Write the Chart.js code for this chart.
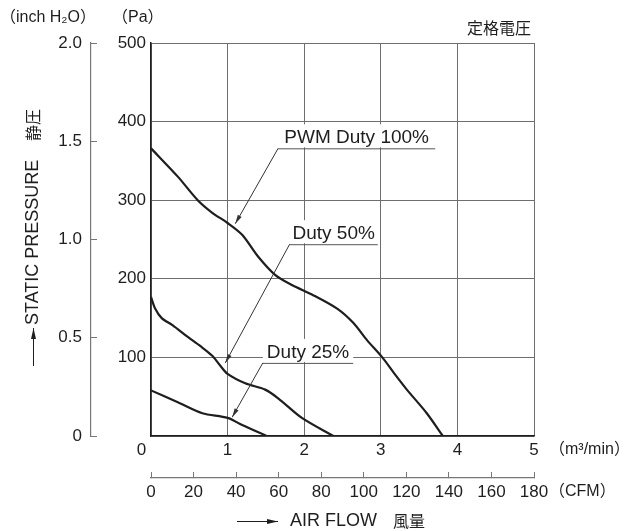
<!DOCTYPE html>
<html>
<head>
<meta charset="utf-8">
<script src="https://cdn.jsdelivr.net/npm/chart.js@4.4.1/dist/chart.umd.min.js"></script>
<style>
  html, body { margin: 0; padding: 0; background: #fff; }
</style>
</head>
<body>
<canvas id="fanChart" width="630" height="531"></canvas>
<script>
// air flow (m3/min) and static pressure (Pa)
var flow100 = [0, 0.35, 0.61, 0.8, 1.0, 1.19, 1.4, 1.62, 1.84, 2.1, 2.43, 2.64, 2.82, 3.02, 3.18, 3.34, 3.6, 3.81];
var pa100   = [366, 330, 300, 284, 271, 256, 228, 205, 192, 180, 162, 144, 122, 100, 79, 59, 29, 0];
var flow50  = [0, 0.05, 0.14, 0.28, 0.48, 0.65, 0.8, 0.9, 1.0, 1.23, 1.49, 1.66, 1.97, 2.38];
var pa50    = [177, 163, 150, 141, 126, 114, 102, 90, 79, 67, 59, 48, 23, 0];
var flow25  = [0, 0.35, 0.67, 1.0, 1.19, 1.51];
var pa25    = [58, 43, 29, 23, 14, 0];

var seriesNames = ['PWM Duty 100%', 'Duty 50%', 'Duty 25%'];

// tick labels
var flowTicks = [0, 1, 2, 3, 4, 5];
var paTicks   = [0, 100, 200, 300, 400, 500];
var inchTicks = [0, 0.5, 1.0, 1.5, 2.0];
var cfmTicks  = [0, 20, 40, 60, 80, 100, 120, 140, 160, 180];

var NARROW = "'Liberation Sans Narrow', 'Arial Narrow', 'Liberation Sans', sans-serif";
var SANS = "'Liberation Sans', Arial, sans-serif";
var CJK = "'Noto Sans CJK JP', 'Noto Sans CJK SC', sans-serif";
var GRID = '#6e6e6e';
var INK = '#1e1e1e';

function toPoints(xs, ys) {
    var pts = [];
    for (var i = 0; i < xs.length; i++) pts.push({x: xs[i], y: ys[i]});
    return pts;
}
function fixTicks(arr) {
    return function (scale) { scale.ticks = arr.map(function (v) { return {value: v}; }); };
}

// annotations: label over an underline, leader to the curve (data units)
var notes = [
    {text: seriesNames[0], x0: 1.66, x1: 3.71, y: 366, tx: 1.10, ty: 270},
    {text: seriesNames[1], x0: 1.81, x1: 2.96, y: 244, tx: 0.97, ty: 93},
    {text: seriesNames[2], x0: 1.46, x1: 2.64, y: 93,  tx: 1.06, ty: 24}
];

function arrow(ctx, x1, y1, x2, y2, len, half) {
    var a = Math.atan2(y2 - y1, x2 - x1);
    ctx.beginPath();
    ctx.moveTo(x1, y1);
    ctx.lineTo(x2, y2);
    ctx.stroke();
    ctx.beginPath();
    ctx.moveTo(x2, y2);
    ctx.lineTo(x2 - len * Math.cos(a) + half * Math.sin(a), y2 - len * Math.sin(a) - half * Math.cos(a));
    ctx.lineTo(x2 - len * Math.cos(a) - half * Math.sin(a), y2 - len * Math.sin(a) + half * Math.cos(a));
    ctx.closePath();
    ctx.fill();
}

var textPlugin = {
    id: 'texts',
    afterDatasetsDraw: function (chart) {
        var ctx = chart.ctx;
        var xs = chart.scales.x, ys = chart.scales.y;
        ctx.save();
        ctx.lineWidth = 1;
        notes.forEach(function (n) {
            var l = xs.getPixelForValue(n.x0), r = xs.getPixelForValue(n.x1);
            var yy = ys.getPixelForValue(n.y);
            ctx.fillStyle = '#fff';
            ctx.fillRect(l, yy - 24, r - l, 23);
            ctx.fillStyle = INK;
            ctx.font = '19px ' + SANS;
            ctx.textAlign = 'center';
            ctx.textBaseline = 'alphabetic';
            ctx.fillText(n.text, (l + r) / 2, yy - 5);
            ctx.strokeStyle = '#555';
            ctx.beginPath();
            ctx.moveTo(l, yy + 0.5);
            ctx.lineTo(r, yy + 0.5);
            ctx.stroke();
            ctx.strokeStyle = '#333';
            ctx.fillStyle = '#333';
            arrow(ctx, l, yy, xs.getPixelForValue(n.tx), ys.getPixelForValue(n.ty), 9, 2.2);
        });
        ctx.restore();
    },
    afterDraw: function (chart) {
        var ctx = chart.ctx;
        ctx.save();
        ctx.fillStyle = INK;
        ctx.textBaseline = 'middle';
        ctx.textAlign = 'left';
        ctx.font = '16px ' + NARROW + ', ' + CJK;
        ctx.fillText('（inch H₂O）', 0, 18);
        ctx.fillText('（Pa）', 112, 18);
        ctx.fillText('（m³/min）', 549, 450);
        ctx.fillText('（CFM）', 549, 492);
        ctx.font = '16px ' + CJK;
        ctx.fillText('定格電圧', 467, 28);

        // x title
        ctx.strokeStyle = INK;
        ctx.fillStyle = INK;
        ctx.lineWidth = 1;
        arrow(ctx, 237, 521.5, 278, 521.5, 11, 2.5);
        ctx.font = '18px ' + SANS;
        ctx.fillText('AIR FLOW', 290, 521);
        ctx.font = '16px ' + CJK;
        ctx.fillText('風量', 393, 521);

        // y title
        ctx.translate(33, 0);
        ctx.rotate(-Math.PI / 2);
        arrow(ctx, -366, 0.5, -328, 0.5, 11, 2.5);
        ctx.font = '18px ' + SANS;
        ctx.fillText('STATIC PRESSURE', -325, 0);
        ctx.font = '16px ' + CJK;
        ctx.fillText('静圧', -141, 0);
        ctx.restore();
    }
};

function lineSet(label, xs, ys) {
    return {
        label: label,
        data: toPoints(xs, ys),
        borderColor: INK,
        borderWidth: 2.2,
        pointRadius: 0,
        fill: false,
        tension: 0.3,
        xAxisID: 'x',
        yAxisID: 'y'
    };
}

var ctx = document.getElementById('fanChart');
new Chart(ctx, {
    type: 'line',
    data: {
        datasets: [
            lineSet(seriesNames[0], flow100, pa100),
            lineSet(seriesNames[1], flow50, pa50),
            lineSet(seriesNames[2], flow25, pa25)
        ]
    },
    options: {
        responsive: false,
        devicePixelRatio: 1,
        animation: false,
        layout: { padding: { top: 43, right: 96, bottom: 0, left: 0 } },
        plugins: { legend: { display: false }, tooltip: { enabled: false } },
        scales: {
            x: {
                type: 'linear', position: 'bottom', weight: 0,
                min: 0, max: 5,
                afterBuildTicks: fixTicks(flowTicks),
                afterFit: function (s) { s.height = 42; },
                grid: { color: GRID, lineWidth: 1, drawTicks: false },
                border: { color: INK, width: 1.5 },
                ticks: {
                    padding: 4, color: INK, font: { family: NARROW, size: 17 },
                    maxRotation: 0,
                    callback: function (v) { return v === 0 ? '0    ' : String(v); }
                }
            },
            cfm: {
                type: 'linear', position: 'bottom', weight: 1,
                min: 0, max: 180,
                afterBuildTicks: fixTicks(cfmTicks),
                afterFit: function (s) { s.height = 53; },
                grid: { drawOnChartArea: false, color: '#777', tickLength: -6 },
                border: { color: '#777', width: 1.2 },
                ticks: {
                    padding: 10, color: INK, font: { family: NARROW, size: 17 },
                    maxRotation: 0
                }
            },
            y: {
                type: 'linear', position: 'left', weight: 0,
                min: 0, max: 500,
                afterBuildTicks: fixTicks(paTicks),
                afterFit: function (s) { s.width = 60; },
                grid: { color: GRID, lineWidth: 1, drawTicks: false },
                border: { color: INK, width: 1.5 },
                ticks: {
                    padding: 5, color: INK, font: { family: NARROW, size: 17 },
                    callback: function (v) { return v === 0 ? '' : String(v); }
                }
            },
            inch: {
                type: 'linear', position: 'left', weight: 1,
                min: 0, max: 2,
                afterBuildTicks: fixTicks(inchTicks),
                afterFit: function (s) { s.width = 91; },
                grid: { drawOnChartArea: false, color: '#777', tickLength: -6 },
                border: { color: '#777', width: 1.2 },
                ticks: {
                    padding: 15, color: INK, font: { family: NARROW, size: 17 },
                    callback: function (v) { return v === 0 ? '0' : v.toFixed(1); }
                }
            }
        }
    },
    plugins: [textPlugin]
});
</script>
</body>
</html>
